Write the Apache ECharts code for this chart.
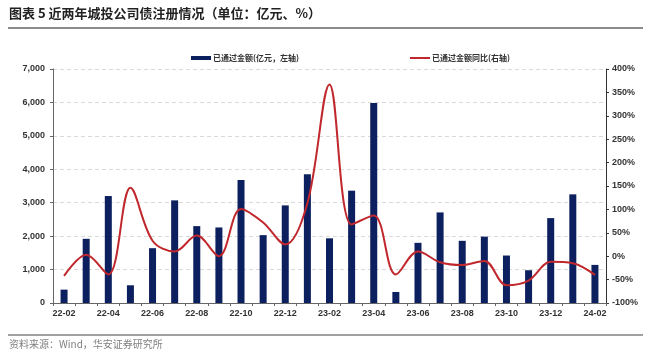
<!DOCTYPE html>
<html><head><meta charset="utf-8">
<script src="https://cdn.jsdelivr.net/npm/echarts@6/dist/echarts.min.js"></script>
<style>html,body{margin:0;padding:0;background:#fff}#c{width:652px;height:362px}</style>
</head><body><div id="c"></div>
<script>
var categories = ['22-02','22-03','22-04','22-05','22-06','22-07','22-08','22-09','22-10','22-11','22-12','23-01','23-02','23-03','23-04','23-05','23-06','23-07','23-08','23-09','23-10','23-11','23-12','24-01','24-02'];
var amount = [400,1920,3200,530,1640,3070,2300,2260,3680,2030,2920,3850,1935,3360,5980,330,1800,2710,1860,1985,1420,980,2540,3250,1140];
var yoy = [-42,3,-39,146,33,10,44,0,101,72,25,113,367,68,87,-39,10,-13,-19,-10,-62,-52,-12,-15,-40];
var leftTicks = {min:0, max:7000, interval:1000};
var rightTicks = {min:-100, max:400, interval:50};
var titleText = '图表 5 近两年城投公司债注册情况（单位：亿元、%）';
var sourceText = '资料来源：Wind，华安证券研究所';
var barName = '已通过金额(亿元，左轴)';
var lineName = '已通过金额同比(右轴)';

var chart = echarts.init(document.getElementById('c'));
var axisFont = {fontFamily:'Liberation Sans, Arial, sans-serif', fontSize:9, fontWeight:'bold', color:'#333'};
chart.setOption({
  animation:false,
  textStyle:{fontFamily:'Liberation Sans, Noto Sans CJK SC, sans-serif'},
  graphic:[
    {type:'text', left:9, top:7, style:{text:titleText, font:'bold 13px "Noto Sans CJK SC", sans-serif', fill:'#222'}},
    {type:'rect', shape:{x:8, y:27, width:635, height:2}, style:{fill:'#8c8c8c'}},
    {type:'rect', shape:{x:8, y:334, width:635, height:2}, style:{fill:'#a0a0a0'}},
    {type:'text', left:9, top:339, style:{text:sourceText, font:'10px "Noto Sans CJK SC", sans-serif', fill:'#808080'}}
  ],
  legend:[
    {data:[barName], left:186, top:49, itemWidth:20, itemHeight:4, icon:'rect', itemGap:2,
     textStyle:{fontSize:8, fontWeight:'bold', color:'#333', fontFamily:'Noto Sans CJK SC, sans-serif', padding:[0,0,0,-3]}},
    {data:[{name:lineName, icon:'rect'}], left:405, top:49, itemWidth:20, itemHeight:2,
     textStyle:{fontSize:8, fontWeight:'bold', color:'#333', fontFamily:'Noto Sans CJK SC, sans-serif', padding:[0,0,0,-3]}}
  ],
  grid:{left:53, right:46, top:69, bottom:59, containLabel:false},
  xAxis:{type:'category', data:categories, boundaryGap:true,
    axisLine:{lineStyle:{color:'#666'}},
    axisTick:{show:true, alignWithLabel:false, interval:0, length:3, lineStyle:{color:'#666'}},
    axisLabel:Object.assign({interval:1, margin:6}, axisFont)},
  yAxis:[
    {type:'value', min:leftTicks.min, max:leftTicks.max, interval:leftTicks.interval, position:'left',
     axisLine:{show:true, lineStyle:{color:'#666'}},
     axisTick:{show:true, length:3, lineStyle:{color:'#666'}},
     splitLine:{show:true, lineStyle:{color:'#d9d9d9', type:[4,3]}},
     axisLabel:Object.assign({margin:8, formatter:function(v){return v.toLocaleString('en-US');}}, axisFont)},
    {type:'value', min:rightTicks.min, max:rightTicks.max, interval:rightTicks.interval, position:'right',
     axisLine:{show:true, lineStyle:{color:'#333'}},
     axisTick:{show:true, length:3, lineStyle:{color:'#333'}},
     splitLine:{show:false},
     axisLabel:Object.assign({margin:6, formatter:'{value}%'}, axisFont)}
  ],
  series:[
    {name:barName, type:'bar', data:amount, yAxisIndex:0, barWidth:7, itemStyle:{color:'#0c1f5e'}},
    {name:lineName, type:'line', data:yoy, yAxisIndex:1, smooth:0.35, showSymbol:false, symbol:'none',
     lineStyle:{color:'#c0282d', width:2}, itemStyle:{color:'#c0282d'}}
  ]
});
</script></body></html>
